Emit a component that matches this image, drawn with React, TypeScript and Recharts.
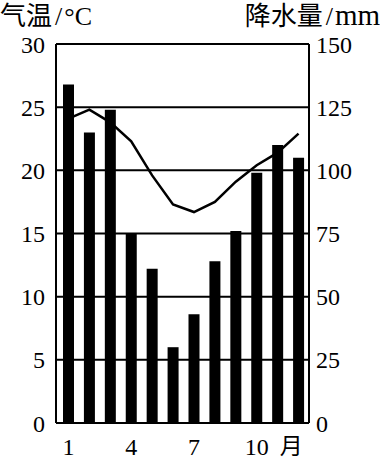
import { ComposedChart, Bar, Line, XAxis, YAxis, CartesianGrid } from 'recharts';

// 月份、降水量(mm)、气温(°C)
const months = ['1', '2', '3', '4', '5', '6', '7', '8', '9', '10', '11', '12'];
const precipitation = [134, 115, 124, 75, 61, 30, 43, 64, 76, 99, 110, 105];
const temperature = [24.1, 24.8, 23.8, 22.3, 19.6, 17.3, 16.7, 17.5, 19.1, 20.4, 21.4, 22.9];
const tempTicks = [0, 5, 10, 15, 20, 25, 30];
const precTicks = [0, 25, 50, 75, 100, 125, 150];

const font = '"Times New Roman", Times, "Liberation Serif", "DejaVu Serif", "Noto Sans CJK SC", serif';

const data = months.map((m, i) => ({
  month: m,
  prec: precipitation[i],
  temp: temperature[i],
}));

function MonthTick(props: any) {
  const { x, y, payload } = props;
  return (
    <g>
      <text x={x} y={y} dy="0.71em" textAnchor="middle" fontSize={24} fontFamily={font} fill="#000">
        {payload.value}
      </text>
      {payload.value === '10' && (
        <text x={x + 23} y={y} dy="0.71em" fontSize={23} fontFamily={font} fill="#000">
          月
        </text>
      )}
    </g>
  );
}

export default function App() {
  const tick = { fontSize: 24, fontFamily: font, fill: '#000' };
  return (
    <div style={{ position: 'absolute', left: 0, top: 0, width: 380, height: 461, fontFamily: font }}>
      <svg width={380} height={40} style={{ position: 'absolute', left: 0, top: 0 }}>
        <text x={0} y={25} fontSize={26} fontFamily={font}>
          <tspan>气温</tspan>
          <tspan dx={3}>/</tspan>
          <tspan dx={2}>°C</tspan>
        </text>
        <text x={380} y={25} fontSize={26} textAnchor="end" fontFamily={font}>
          <tspan>降水量</tspan>
          <tspan dx={3}>/</tspan>
          <tspan dx={2} fontSize={29}>mm</tspan>
        </text>
      </svg>
      <ComposedChart width={380} height={461} data={data} margin={{ top: 44, right: 0, bottom: 8, left: 0 }}>
        <CartesianGrid vertical={false} stroke="#000" strokeWidth={2} />
        <XAxis
          dataKey="month"
          interval={2}
          height={30}
          padding={{ left: 2, right: 0 }}
          axisLine={{ stroke: '#000', strokeWidth: 2 }}
          tickLine={false}
          tickMargin={9}
          tick={<MonthTick />}
        />
        <YAxis
          domain={[0, 30]}
          ticks={tempTicks}
          width={56}
          axisLine={{ stroke: '#000', strokeWidth: 2 }}
          tickLine={false}
          tickMargin={5}
          tick={tick}
        />
        <YAxis
          yAxisId="p"
          orientation="right"
          domain={[0, 150]}
          ticks={precTicks}
          width={71}
          axisLine={{ stroke: '#000', strokeWidth: 2 }}
          tickLine={false}
          tickMargin={1}
          tick={{ ...tick, textAnchor: 'start' }}
        />
        <Bar yAxisId="p" dataKey="prec" fill="#000" barSize={11} isAnimationActive={false} />
        <Line dataKey="temp" type="linear" stroke="#000" strokeWidth={2.5} dot={false} isAnimationActive={false} />
      </ComposedChart>
    </div>
  );
}
